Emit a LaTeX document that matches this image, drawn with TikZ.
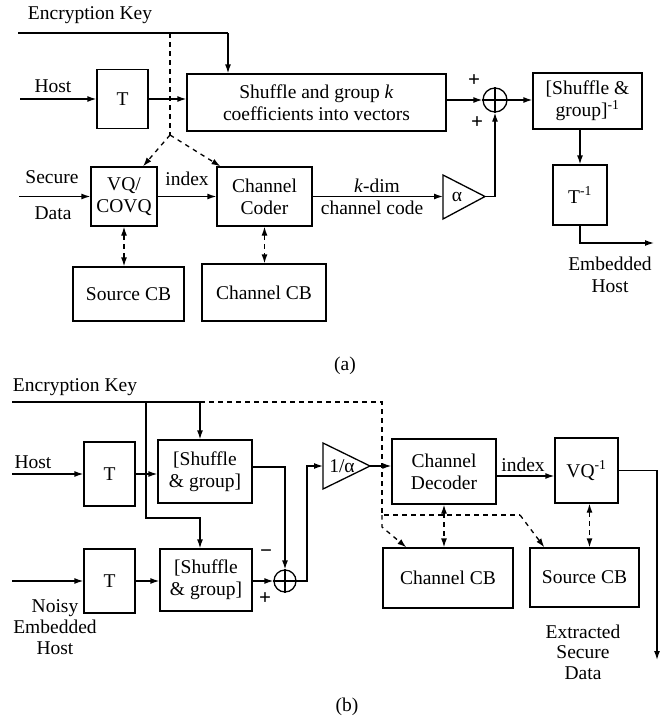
\documentclass[tikz,border=0pt]{standalone}
\usepackage{fontspec}
\setmainfont{Liberation Serif}
\usetikzlibrary{arrows.meta}
\begin{document}
\begin{tikzpicture}[x=1pt,y=-1pt,
  every node/.style={font=\fontsize{19.5}{22}\selectfont},
  blk/.style={draw, line width=1.3pt, inner sep=0pt, align=center},
  sumnode/.style={draw, circle, line width=1.3pt, minimum size=24pt, inner sep=0pt},
  lbl/.style={inner sep=0pt, align=center},
  sign/.style={inner sep=0pt, font=\fontsize{21}{22}\selectfont\bfseries},
  wire/.style={line width=1.3pt},
  arr/.style={wire, -{Latex[length=9pt,width=6pt]}},
  dline/.style={wire, dash pattern=on 4.5pt off 4.5pt},
  darr/.style={dline, -{Latex[length=9pt,width=6pt]}},
  ddarr/.style={dline, {Latex[length=9pt,width=6pt]}-{Latex[length=9pt,width=6pt]}}]
\useasboundingbox (0,0) rectangle (666,723);

% ---------------- (a) embedding ----------------
\node[lbl] (keyA) at (90,15) {Encryption Key};
\node[blk, minimum width=51pt, minimum height=59pt] (Ta) at (122.5,99) {T};
\node[blk, minimum width=259pt, minimum height=57pt] (SGa) at (316.5,102.5)
  {Shuffle and group \textit{k}\\coefficients into vectors};
\node[sumnode] (Sa) at (495,100) {};
\draw[wire] (Sa.north) -- (Sa.south) (Sa.west) -- (Sa.east);
\node[blk, minimum width=109pt, minimum height=56pt] (SGinv) at (587.5,101)
  {[Shuffle \&\\group]\textsuperscript{-1}};
\node[blk, minimum width=54pt, minimum height=60pt] (Tinv) at (580,195) {T\textsuperscript{-1}};
\node[blk, minimum width=66pt, minimum height=59pt] (VQa) at (124,196.5) {VQ/\\COVQ};
\node[blk, minimum width=95pt, minimum height=59pt] (CCa) at (264.5,196.5) {Channel\\Coder};
\node[blk, minimum width=111pt, minimum height=54pt] (SrcA) at (128.5,294) {Source CB};
\node[blk, minimum width=124pt, minimum height=57pt] (ChA) at (264,292.5) {Channel CB};

% gain stage alpha
\coordinate (alphaIn) at (443,196.5);
\coordinate (alphaOut) at (485,196.5);
\draw[wire] (443,175) -- (alphaOut) -- (443,219) -- cycle;
\node[lbl] (alphaA) at (457,196.5) {α};

% key lines
\coordinate (kaStart) at (18,33);
\coordinate (kaTurn) at (228,33);
\coordinate (kaD0) at (170,33);
\coordinate (kaD1) at (170,135);
\draw[wire] (kaStart) -- (kaTurn);
\draw[arr] (kaTurn) -- (kaTurn |- SGa.north);
\draw[dline] (kaD0) -- (kaD1);
\draw[darr] (kaD1) -- ([xshift=19pt]VQa.north);
\draw[darr] (kaD1) -- ([xshift=-44pt]CCa.north);

% host path
\node[lbl] (hostA) at (53,86) {Host};
\coordinate (hostAin) at (20,99);
\draw[arr] (hostAin) -- (Ta.west);
\draw[arr] (Ta.east) -- (Ta.east -| SGa.west);
\draw[arr] (SGa.east |- Sa) -- (Sa.west);
\draw[arr] (Sa.east) -- (Sa.east -| SGinv.west);
\draw[arr] (Tinv.north |- SGinv.south) -- (Tinv.north);
\coordinate (outA) at (654,243);
\draw[arr] (Tinv.south) |- (outA);
\node[lbl] (embA) at (610,275) {Embedded\\Host};
\node[sign] (plusA1) at (474,81) {+};
\node[sign] (plusA2) at (477,123) {+};

% secure data path
\node[lbl] (secA) at (52,177) {Secure};
\node[lbl] (dataA) at (53,213) {Data};
\coordinate (secAin) at (19,196.5);
\draw[arr] (secAin) -- (VQa.west);
\draw[arr] (VQa.east) -- (CCa.west);
\node[lbl] (idxA) at (187,179) {index};
\draw[arr] (CCa.east |- alphaIn) -- (alphaIn);
\node[lbl] (kdim) at (377,186) {\textit{k}-dim};
\node[lbl] (chcode) at (372,208) {channel code};
\draw[arr] (alphaOut) -| (Sa.south);

% codebooks
\draw[ddarr] (VQa.south) -- (VQa.south |- SrcA.north);
\draw[ddarr] (CCa.south) -- (CCa.south |- ChA.north);

\node[lbl] (capA) at (345,366) {(a)};

% ---------------- (b) extraction ----------------
\node[lbl] (keyB) at (75,387) {Encryption Key};
\node[blk, minimum width=51pt, minimum height=64pt] (T1b) at (109.5,474) {T};
\node[blk, minimum width=94pt, minimum height=63pt] (SG1b) at (205,471.5) {[Shuffle\\\& group]};
\node[blk, minimum width=51pt, minimum height=64pt] (T2b) at (109.5,581) {T};
\node[blk, minimum width=92pt, minimum height=62pt] (SG2b) at (206,580) {[Shuffle\\\& group]};
\node[sumnode, minimum size=22pt] (Sb) at (285,581) {};
\draw[wire] (Sb.north) -- (Sb.south) (Sb.west) -- (Sb.east);
\node[blk, minimum width=104pt, minimum height=65pt] (CD) at (444,471.5) {Channel\\Decoder};
\node[blk, minimum width=63pt, minimum height=65pt] (VQinv) at (586.5,470.5) {VQ\textsuperscript{-1}};
\node[blk, minimum width=130pt, minimum height=60pt] (ChB) at (448,578) {Channel CB};
\node[blk, minimum width=109pt, minimum height=59pt] (SrcB) at (584.5,577.5) {Source CB};

% gain stage 1/alpha
\coordinate (invIn) at (323,466);
\coordinate (invOut) at (370,466);
\draw[wire] (323,443) -- (invOut) -- (323,489) -- cycle;
\node[lbl] (invA) at (342,466) {1/α};

% key lines
\coordinate (kb0) at (12,402);
\coordinate (kb1) at (146,402);
\coordinate (kb2) at (200,402);
\coordinate (kb3) at (382,402);
\coordinate (kb4) at (382,515);
\coordinate (kb5) at (520,515);
\coordinate (kb6) at (382,527);
\coordinate (kb7) at (200,518);
\draw[wire] (kb0) -- (kb2);
\draw[arr] (kb2) -- (kb2 |- SG1b.north);
\draw[arr] (kb1) |- (kb7) -- (kb7 |- SG2b.north);
\draw[dline] (kb2) -- (kb3) -- (kb4) -- (kb5);
\draw[darr] (kb5) -- ([xshift=15pt]SrcB.north west);
\draw[darr] (kb4) -- (kb6) -- ([xshift=24pt]ChB.north west);

% host and received paths
\node[lbl] (hostB) at (33,462) {Host};
\coordinate (hostBin) at (12,474);
\draw[arr] (hostBin) -- (T1b.west);
\draw[arr] (T1b.east) -- (T1b.east -| SG1b.west);
\draw[arr] ([yshift=4.5pt]SG1b.east) -| (Sb.north);
\coordinate (noisyIn) at (12,581);
\draw[arr] (noisyIn) -- (T2b.west);
\draw[arr] (T2b.east) -- (T2b.east -| SG2b.west);
\draw[arr] (SG2b.east |- Sb) -- (Sb.west);
\node[sign] (minusB) at (266,554) {\char"2212};
\node[sign] (plusB) at (265,599) {+};
\node[lbl, font=\fontsize{19.5}{21}\selectfont] (noisyB) at (55,627) {Noisy\\Embedded\\Host};

\coordinate (sbTurn) at (307,581);
\draw[arr] (Sb.east) -- (sbTurn) |- (invIn);
\draw[arr] (invOut) -- (invOut -| CD.west);
\draw[arr] ([yshift=-4.5pt]CD.east) -- ([yshift=-4.5pt]CD.east -| VQinv.west);
\node[lbl] (idxB) at (523,465) {index};
\coordinate (outB) at (657,660);
\draw[arr] (VQinv.east) -| (outB);
\node[lbl, font=\fontsize{19.5}{20.5}\selectfont] (extB) at (583,652) {Extracted\\Secure\\Data};

% codebooks
\draw[ddarr] (CD.south) -- (CD.south |- ChB.north);
\draw[ddarr] ([xshift=3pt]VQinv.south) -- ([xshift=3pt]VQinv.south |- SrcB.north);

\node[lbl] (capB) at (347,707) {(b)};
\end{tikzpicture}
\end{document}
